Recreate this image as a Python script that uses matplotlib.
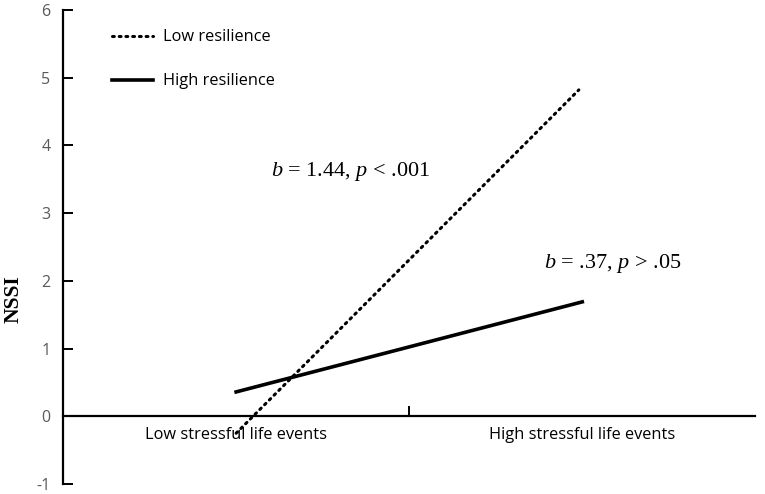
import matplotlib.pyplot as plt
from matplotlib.ticker import FixedLocator, NullFormatter

# データ
categories = ["Low stressful life events", "High stressful life events"]
cat_pos = [0.5, 1.5]
low_res = [-0.25, 4.82]
high_res = [0.36, 1.69]
yticks = [-1, 0, 1, 2, 3, 4, 5, 6]
note_low = r"$b$ = 1.44, $p$ < .001"
note_high = r"$b$ = .37, $p$ > .05"

plt.rcParams["mathtext.fontset"] = "custom"
plt.rcParams["mathtext.rm"] = "Liberation Serif"
plt.rcParams["mathtext.it"] = "Liberation Serif:italic"
plt.rcParams["axes.unicode_minus"] = False

fig = plt.figure(figsize=(7.65, 4.94), dpi=100)
ax = fig.add_axes([0.0824, 0.0202, 0.905, 0.9596])

ax.plot([0.5, 1.49], low_res, color="black", lw=2.2, linestyle=(0, (0.6, 1.6)),
        dash_capstyle="round", label="Low resilience")
ax.plot(cat_pos, high_res, color="black", lw=2.6, label="High resilience")

ax.set_xlim(0, 2)
ax.set_ylim(-1, 6)

# 軸
for s in ["top", "right"]:
    ax.spines[s].set_visible(False)
ax.spines["bottom"].set_position(("data", 0))
ax.spines["left"].set_linewidth(1.6)
ax.spines["bottom"].set_linewidth(1.6)

ax.set_yticks(yticks)
ax.tick_params(axis="y", direction="in", length=7, width=1.4, labelsize=11.5,
               labelcolor="#595959", pad=9)
for lab in ax.get_yticklabels():
    lab.set_family("Open Sans")

ax.xaxis.set_major_locator(FixedLocator([1]))
ax.xaxis.set_major_formatter(NullFormatter())
ax.xaxis.set_minor_locator(FixedLocator(cat_pos))
ax.set_xticklabels(categories, minor=True)
ax.tick_params(axis="x", which="major", direction="in", length=7, width=1.4)
ax.tick_params(axis="x", which="minor", length=0, labelsize=11.8, pad=8)
for lab in ax.get_xticklabels(minor=True):
    lab.set_family("Open Sans")

ax.set_ylabel("NSSI", fontsize=15.5, fontweight="bold", family="Liberation Serif")
ax.yaxis.set_label_coords(-0.057, 0.39)

ax.text(0.832, 3.61, note_low, fontsize=16, ha="center", va="center", family="Liberation Serif")
ax.text(1.587, 2.25, note_high, fontsize=16, ha="center", va="center", family="Liberation Serif")

ax.legend(loc="upper left", bbox_to_anchor=(0.05, 0.99), frameon=False,
          handlelength=2.5, labelspacing=1.7, handletextpad=0.6,
          prop={"family": "Open Sans", "size": 11.8})

plt.savefig("out.png", dpi=100)
